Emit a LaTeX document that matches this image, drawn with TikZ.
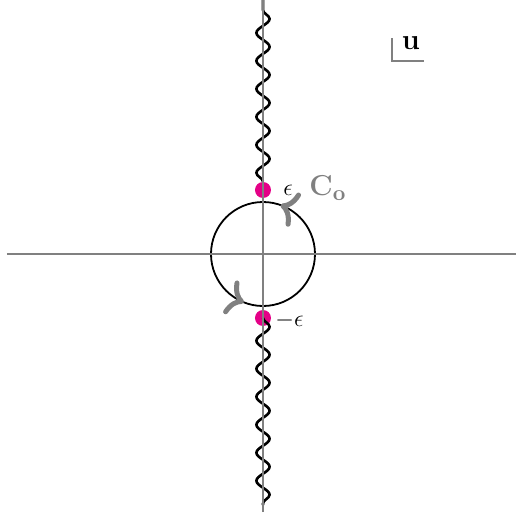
\documentclass[tikz,border=0pt]{standalone}
\usepackage{amsfonts, amssymb, amsmath}
\usepackage{tikz}
\usetikzlibrary{decorations.pathmorphing, decorations.markings, arrows.meta}

\definecolor{polepink}{RGB}{228,0,135}
\tikzset{
    axisline/.style={draw=gray, line width=1pt},
    branchcut/.style={black, line width=1.3pt, decorate,
        decoration={snake, amplitude=3.3pt, segment length=14pt}},
    pole/.style={circle, fill=polepink, inner sep=0pt, minimum size=8pt},
    contour/.style={black, line width=0.9pt, postaction={decorate},
        decoration={markings,
            mark=at position 0.195 with {\arrow{Computer Modern Rightarrow[color=gray, line width=2.5pt, length=8pt, width=18pt]}},
            mark=at position 0.69 with {\arrow{Computer Modern Rightarrow[color=gray, line width=2.5pt, length=8pt, width=18pt]}}}}
}

\begin{document}
\begin{tikzpicture}[x=0.5pt, y=0.5pt]
    \useasboundingbox (-263,-261) rectangle (253,254);

    % poles and branch cuts
    \node[pole] (pup) at (0,64) {};
    \node[pole] (pdown) at (0,-64) {};
    \coordinate (cuttop) at (0,254);
    \coordinate (cutbot) at (0,-251);
    \draw[branchcut] (pup.north) -- (cuttop);
    \draw[branchcut] (pdown.center) -- (cutbot);

    % contour around the origin
    \draw[contour] (26pt,0) arc[start angle=0, end angle=360, radius=26pt];

    % axes
    \coordinate (xl) at (-256,0);
    \coordinate (xr) at (253,0);
    \coordinate (yt) at (0,254);
    \coordinate (yb) at (0,-258);
    \draw[axisline] (xl) -- (xr);
    \draw[axisline] (yb) -- (yt);

    % labels
    \node[right, inner sep=1pt] (eps) at (18,64) {\fontsize{13}{15}\selectfont $\epsilon$};
    \node[right, inner sep=1pt] (meps) at (10,-66) {\fontsize{13}{15}\selectfont $-\epsilon$};
    \node[gray] (co) at (65,66) {\fontsize{15}{17}\selectfont $\mathbf{C}_{\mathbf{o}}$};

    % plane label
    \coordinate (ctop) at (129,216);
    \coordinate (ccorner) at (129,193);
    \coordinate (cright) at (161,193);
    \draw[gray, line width=1pt] (ctop) -- (ccorner) -- (cright);
    \node (plane) at (148,211) {\fontsize{14}{16}\selectfont $\mathbf{u}$};
\end{tikzpicture}
\end{document}
